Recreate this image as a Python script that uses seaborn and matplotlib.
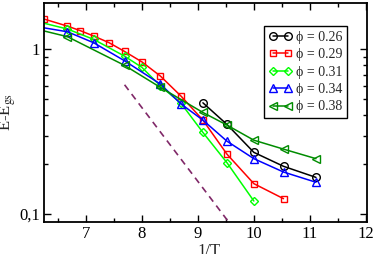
import numpy as np
import pandas as pd
import matplotlib
matplotlib.use("Agg")
import matplotlib.pyplot as plt
import seaborn as sns
from matplotlib.ticker import FixedLocator, NullFormatter

# data (x = 1/T, y = E - E_gs)
x_026 = [9.09, 9.52, 10.0, 10.53, 11.11]
y_026 = [0.474, 0.350, 0.237, 0.195, 0.167]

x_029 = [6.25, 6.67, 6.90, 7.14, 7.41, 7.69, 8.0, 8.33, 8.70, 9.09, 9.52, 10.0, 10.53]
y_029 = [1.53, 1.385, 1.30, 1.205, 1.10, 0.972, 0.84, 0.689, 0.52, 0.372, 0.231, 0.153, 0.124]

x_031 = [5.88, 6.67, 7.14, 7.69, 8.0, 8.33, 8.70, 9.09, 9.52, 10.0]
y_031 = [1.55, 1.33, 1.15, 0.91, 0.778, 0.60, 0.47, 0.313, 0.205, 0.120]

x_034 = [5.88, 6.67, 7.14, 7.69, 8.33, 8.70, 9.09, 9.52, 10.0, 10.53, 11.11]
y_034 = [1.42, 1.28, 1.097, 0.853, 0.616, 0.466, 0.372, 0.277, 0.217, 0.180, 0.156]

x_038 = [5.88, 6.67, 7.69, 8.33, 9.09, 9.52, 10.0, 10.53, 11.11]
y_038 = [1.39, 1.195, 0.80, 0.588, 0.414, 0.347, 0.281, 0.248, 0.217]

fit_x = [7.69, 9.6]
fit_y = [0.61, 0.085]

labels = ["ϕ = 0.26", "ϕ = 0.29", "ϕ = 0.31", "ϕ = 0.34", "ϕ = 0.38"]
colors = ["#000000", "#ff0000", "#00ff00", "#0000ff", "#008c00"]
markers = ["o", "s", "D", "^", "<"]
msizes = [5.5, 5.0, 4.2, 5.5, 5.5]

sns.set_style("ticks")
plt.rcParams["font.family"] = ["Liberation Serif", "DejaVu Serif"]
plt.rcParams["mathtext.fontset"] = "stix"

fig = plt.figure(figsize=(3.74, 2.54), dpi=100)
ax = fig.add_axes([0.1176, 0.127, 0.8634, 0.862])

series = [(x_026, y_026), (x_029, y_029), (x_031, y_031), (x_034, y_034), (x_038, y_038)]
for (xs, ys), lab, c, m, ms in zip(series, labels, colors, markers, msizes):
    df = pd.DataFrame({"x": xs, "y": ys})
    sns.lineplot(data=df, x="x", y="y", ax=ax, color=c, marker=m, markersize=ms,
                 markerfacecolor="none", markeredgecolor=c, markeredgewidth=1.0,
                 linewidth=1.1, label=lab, sort=False, estimator=None)

dfit = pd.DataFrame({"x": fit_x, "y": fit_y})
sns.lineplot(data=dfit, x="x", y="y", ax=ax, color="#802868", linewidth=1.2,
             dashes=False, linestyle=(0, (4, 3)), estimator=None, sort=False)

ax.set_yscale("log")
ax.set_xlim(6.25, 12.02)
ax.set_ylim(0.0898, 1.92)

ax.set_xticks([7, 8, 9, 10, 11, 12])
ax.set_xticklabels(["7", "8", "9", "10", "11", "12"])
ax.xaxis.set_minor_locator(FixedLocator(np.arange(6.5, 12.01, 0.5)))
ax.yaxis.set_major_locator(FixedLocator([0.1, 1.0]))
ax.set_yticklabels(["0,1", "1"])
ax.yaxis.set_minor_locator(FixedLocator([0.2, 0.3, 0.4, 0.5, 0.6, 0.7, 0.8, 0.9]))
ax.yaxis.set_minor_formatter(NullFormatter())

ax.tick_params(which="both", direction="in", top=True, right=True, width=1.0,
               labelsize=12, colors="black")
ax.tick_params(which="major", length=5, pad=3)
ax.tick_params(which="minor", length=3)
for s in ax.spines.values():
    s.set_linewidth(1.3)
    s.set_color("black")

ax.set_xlabel("1/T", fontsize=12)
ax.xaxis.set_label_coords(0.511, -0.095)
ax.set_ylabel("E-E$_\\mathrm{gs}$", fontsize=12, labelpad=1)

handles, labs = ax.get_legend_handles_labels()
leg = ax.legend(handles[:5], labs[:5], loc="upper right", bbox_to_anchor=(0.939, 0.895),
                numpoints=2, fontsize=10, handlelength=1.7, handletextpad=0.25,
                labelspacing=0.32, borderpad=0.35, borderaxespad=0,
                fancybox=False, framealpha=1, edgecolor="black")
leg.get_frame().set_linewidth(1.0)

fig.savefig("out.png", dpi=100)
